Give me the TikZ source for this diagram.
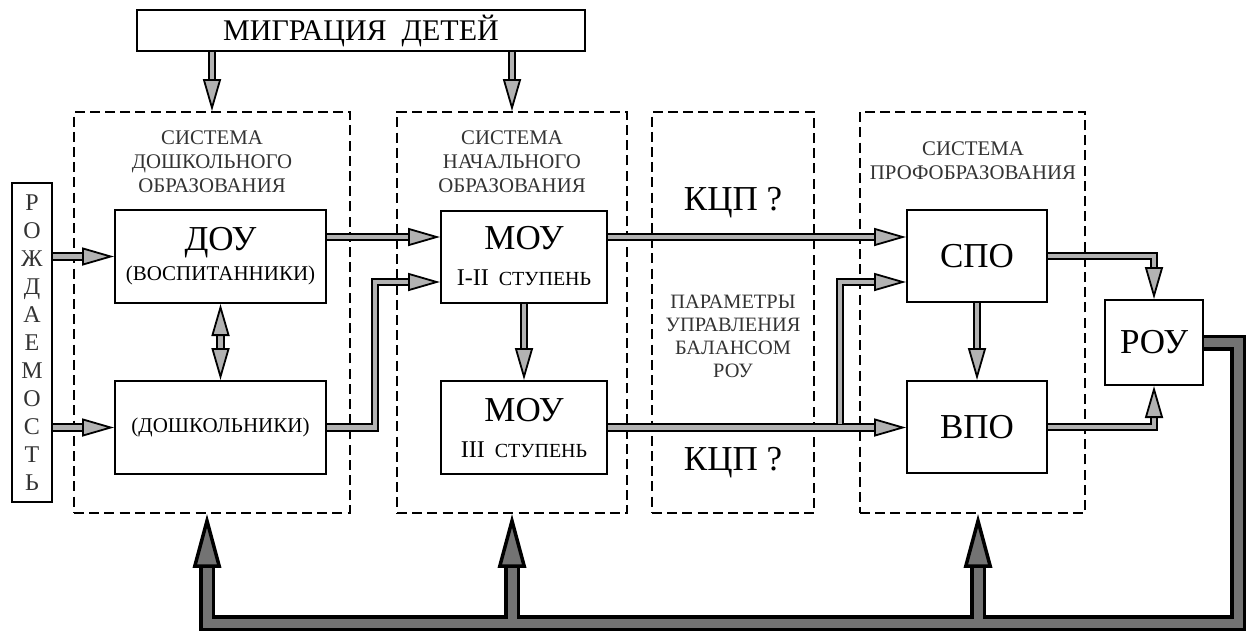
\documentclass[tikz,border=0pt]{standalone}
\usepackage{fontspec}
\setmainfont{Liberation Serif}
\usetikzlibrary{arrows.meta}

\newcommand{\sizeBig}{\fontsize{17.5}{20}\selectfont}
\newcommand{\sizeMid}{\fontsize{12}{14}\selectfont}
\newcommand{\sizeSmall}{\fontsize{10.5}{12}\selectfont}

\tikzstyle{unit} = [rectangle, draw=black, line width=1pt, align=center, inner sep=1pt]
\tikzstyle{group} = [rectangle, draw=black, line width=0.9pt, dash pattern=on 5pt off 2.6pt, minimum height=200.5pt]
\tikzstyle{title} = [align=center, text=black!80, font=\fontsize{10.4}{12}\selectfont]
\tikzstyle{flow} = [line width=0.9pt, double=black!30, double distance=2.4pt, -{Triangle[length=16pt, width=9pt, fill=black!30]}]
\tikzstyle{flowboth} = [flow, {Triangle[length=16pt, width=9pt, fill=black!30]}-{Triangle[length=16pt, width=9pt, fill=black!30]}]
\tikzstyle{feedback} = [line width=1.75pt, double=black!55, double distance=4.5pt]
\tikzstyle{fbtip} = [feedback, -{Triangle[length=27pt, width=14pt, fill=black!55]}]

\begin{document}
\begin{tikzpicture}[x=0.5pt, y=-0.5pt, node distance=85.5pt]
\useasboundingbox (0,0) rectangle (1251,633);

% Узлы
\node (mig) [unit, minimum width=224pt, minimum height=20.5pt, font=\fontsize{15}{17}\selectfont] at (361,30.5) {МИГРАЦИЯ\ \ ДЕТЕЙ};

\node (sys1) [group, minimum width=138pt] at (212,312.5) {};
\node (sys2) [group, minimum width=115pt] at (512,312.5) {};
\node (sys3) [group, minimum width=81pt] at (733,312.5) {};
\node (sys4) [group, minimum width=112.5pt] at (972.5,312.5) {};

\node (t1) [title] at (212,162) {СИСТЕМА\\ДОШКОЛЬНОГО\\ОБРАЗОВАНИЯ};
\node (t2) [title] at (512,162) {СИСТЕМА\\НАЧАЛЬНОГО\\ОБРАЗОВАНИЯ};
\node (t3) [title, font=\fontsize{10.2}{11.5}\selectfont] at (733,336) {ПАРАМЕТРЫ\\УПРАВЛЕНИЯ\\БАЛАНСОМ\\РОУ};
\node (t4) [title] at (973,161) {СИСТЕМА\\ПРОФОБРАЗОВАНИЯ};
\node (kcp1) [font=\sizeBig] at (733,203) {КЦП ?};
\node (kcp2) [font=\sizeBig] at (733,463) {КЦП ?};

\node (birth) [unit, minimum width=20pt, minimum height=159.5pt, text=black!80, font=\fontsize{12}{14}\selectfont] at (32,342.5) {Р\\О\\Ж\\Д\\А\\Е\\М\\О\\С\\Т\\Ь};

\node (dou) [unit, minimum width=105.5pt, minimum height=46.5pt, font=\fontsize{10.5}{15}\selectfont] at (220.5,256.5) {{\sizeBig ДОУ}\\(ВОСПИТАННИКИ)};
\node (dosh) [unit, minimum width=105.5pt, minimum height=46.5pt, font=\sizeSmall, below of=dou] {(ДОШКОЛЬНИКИ)};
\node (mou1) [unit, minimum width=83pt, minimum height=46pt, font=\fontsize{10}{18}\selectfont] at (524,256.5) {{\sizeBig МОУ}\\{\sizeMid I-II}\ \ СТУПЕНЬ};
\node (mou3) [unit, minimum width=83pt, minimum height=46.5pt, font=\fontsize{10}{18}\selectfont, below of=mou1] {{\sizeBig МОУ}\\{\sizeMid III}\ \ СТУПЕНЬ};
\node (spo) [unit, minimum width=70pt, minimum height=46pt, font=\sizeBig] at (977,256) {СПО};
\node (vpo) [unit, minimum width=70pt, minimum height=46pt, font=\sizeBig, below of=spo] {ВПО};
\node (rou) [unit, minimum width=49pt, minimum height=42.5pt, font=\sizeBig] at (1154,342.5) {РОУ};

% Связи
\draw [flow] (mig.south -| sys1.north) -- (sys1.north);
\draw [flow] (mig.south -| sys2.north) -- (sys2.north);

\draw [flow] (birth.east |- dou.west) -- (dou.west);
\draw [flow] (birth.east |- dosh.west) -- (dosh.west);
\draw [flowboth] (dou.south) -- (dosh.north);

\draw [flow] ([yshift=9.75pt]dou.east) -- ([yshift=9.75pt]dou.east -| mou1.west);
\draw [flow] (dosh.east) -- ++(48,0) |- ([yshift=-12.75pt]mou1.west);

\draw [flow] ([yshift=9.75pt]mou1.east) -- ([yshift=9.75pt]mou1.east -| spo.west);
\draw [flow] (mou1.south) -- (mou3.north);
\draw [flow] (mou3.east) -- (mou3.east -| vpo.west);
\draw [flow] ([xshift=116pt,yshift=2pt]mou3.east) |- ([yshift=-13pt]spo.west);

\draw [flow] (spo.south) -- (vpo.north);
\draw [flow] (spo.east) -| (rou.north);
\draw [flow] (vpo.east) -| (rou.south);

% Обратная связь
\coordinate (fb) at (1238,623);
\draw [feedback] (rou.east) -| (fb) -| ([xshift=-2.5pt,yshift=-28pt]sys1.south)
  ([yshift=-28pt]sys2.south) -- (sys2.south |- fb)
  ([xshift=2.75pt,yshift=-28pt]sys4.south) -- ([xshift=2.75pt]sys4.south |- fb);
\draw [fbtip] ([xshift=-2.5pt,yshift=-30pt]sys1.south) -- ([xshift=-2.5pt]sys1.south);
\draw [fbtip] ([yshift=-30pt]sys2.south) -- (sys2.south);
\draw [fbtip] ([xshift=2.75pt,yshift=-30pt]sys4.south) -- ([xshift=2.75pt]sys4.south);

\end{tikzpicture}
\end{document}
